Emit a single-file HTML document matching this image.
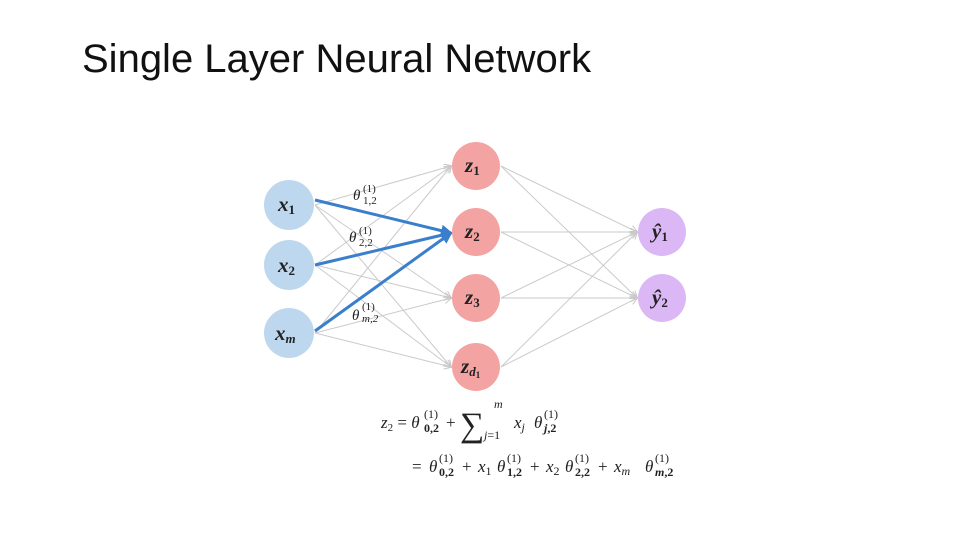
<!DOCTYPE html>
<html><head><meta charset="utf-8"><style>
html,body{margin:0;padding:0;background:#fff;}
body{width:960px;height:540px;overflow:hidden;position:relative;}
.t{position:absolute;left:82px;top:37px;font-family:"Liberation Sans",sans-serif;font-size:40px;color:#111;letter-spacing:0px;}
</style></head><body>
<div class="t">Single Layer Neural Network</div>
<svg width="960" height="540" style="position:absolute;left:0;top:0" font-family="Liberation Serif, serif" font-style="italic">
<defs>
<marker id="g" markerWidth="8" markerHeight="8" refX="7" refY="4" orient="auto" markerUnits="userSpaceOnUse"><path d="M0,0 L8,4 L0,8" fill="none" stroke="#c8c8c8" stroke-width="1"/></marker>
<marker id="b" markerWidth="12" markerHeight="12" refX="10" refY="6" orient="auto" markerUnits="userSpaceOnUse"><path d="M0,0 L12,6 L0,12 z" fill="#3a7fcc"/></marker>
</defs>
<g stroke="#cacaca" stroke-width="1" fill="none" marker-end="url(#g)">
<line x1="315" y1="205" x2="451" y2="166"/><line x1="315" y1="205" x2="451" y2="298"/><line x1="315" y1="205" x2="451" y2="367"/>
<line x1="315" y1="265" x2="451" y2="166"/><line x1="315" y1="265" x2="451" y2="298"/><line x1="315" y1="265" x2="451" y2="367"/>
<line x1="315" y1="333" x2="451" y2="166"/><line x1="315" y1="333" x2="451" y2="298"/><line x1="315" y1="333" x2="451" y2="367"/>
<line x1="501" y1="166" x2="637" y2="232"/><line x1="501" y1="166" x2="637" y2="298"/>
<line x1="501" y1="232" x2="637" y2="232"/><line x1="501" y1="232" x2="637" y2="298"/>
<line x1="501" y1="298" x2="637" y2="232"/><line x1="501" y1="298" x2="637" y2="298"/>
<line x1="501" y1="367" x2="637" y2="232"/><line x1="501" y1="367" x2="637" y2="298"/>
</g>
<g stroke="#3a7fcc" stroke-width="3" marker-end="url(#b)">
<line x1="315" y1="200" x2="451" y2="233"/><line x1="315" y1="265" x2="451" y2="233"/><line x1="315" y1="331" x2="451" y2="233"/>
</g>
<g fill="#bdd7ee"><circle cx="289" cy="205" r="25"/><circle cx="289" cy="265" r="25"/><circle cx="289" cy="333" r="25"/></g>
<g fill="#f4a3a3"><circle cx="476" cy="166" r="24"/><circle cx="476" cy="232" r="24"/><circle cx="476" cy="298" r="24"/><circle cx="476" cy="367" r="24"/></g>
<g fill="#dbb8f5"><circle cx="662" cy="232" r="24"/><circle cx="662" cy="298" r="24"/></g>
<g fill="#222" font-size="21" font-weight="bold">
<text x="278" y="211">x<tspan font-size="13" font-style="normal" dy="3">1</tspan></text>
<text x="278" y="272">x<tspan font-size="13" font-style="normal" dy="3">2</tspan></text>
<text x="275" y="340">x<tspan font-size="13" dy="3">m</tspan></text>
<text x="465" y="172">z<tspan font-size="13" font-style="normal" dy="3">1</tspan></text>
<text x="465" y="238">z<tspan font-size="13" font-style="normal" dy="3">2</tspan></text>
<text x="465" y="304">z<tspan font-size="13" font-style="normal" dy="3">3</tspan></text>
<text x="461" y="373">z<tspan font-size="13" dy="3">d</tspan><tspan font-size="9" font-style="normal" dy="2">1</tspan></text>
<text x="652" y="238">ŷ<tspan font-size="13" font-style="normal" dy="3">1</tspan></text>
<text x="652" y="304">ŷ<tspan font-size="13" font-style="normal" dy="3">2</tspan></text>
</g>
<g fill="#222" font-size="15">
<text x="353" y="200">θ</text><text x="363" y="192" font-size="11" font-style="normal">(1)</text><text x="363" y="204" font-size="11" font-style="normal">1,2</text>
<text x="349" y="242">θ</text><text x="359" y="234" font-size="11" font-style="normal">(1)</text><text x="359" y="246" font-size="11" font-style="normal">2,2</text>
<text x="352" y="320">θ</text><text x="362" y="310" font-size="11" font-style="normal">(1)</text><text x="362" y="322" font-size="11">m,2</text>
</g>
<g fill="#222" font-size="17">
<text x="381" y="428">z<tspan font-size="11" font-style="normal" dy="3">2</tspan><tspan font-style="normal" dy="-3"> = </tspan>θ</text>
<text x="424" y="418" font-size="12" font-style="normal">(1)</text><text x="424" y="432" font-size="12" font-style="normal" font-weight="bold">0,2</text>
<text x="446" y="428" font-style="normal">+</text>
<text x="460" y="436" font-size="34" font-style="normal">∑</text>
<text x="494" y="408" font-size="12">m</text>
<text x="484" y="439" font-size="12">j<tspan font-style="normal">=1</tspan></text>
<text x="514" y="428">x<tspan font-size="12" dy="3">j</tspan></text>
<text x="534" y="428">θ</text><text x="544" y="418" font-size="12" font-style="normal">(1)</text><text x="544" y="432" font-size="12" font-weight="bold"><tspan>j</tspan><tspan font-style="normal">,2</tspan></text>
<text x="412" y="472" font-style="normal">=</text>
<text x="429" y="472">θ</text><text x="439" y="462" font-size="12" font-style="normal">(1)</text><text x="439" y="476" font-size="12" font-style="normal" font-weight="bold">0,2</text>
<text x="462" y="472" font-style="normal">+</text>
<text x="478" y="472">x<tspan font-size="12" font-style="normal" dy="3">1</tspan></text>
<text x="497" y="472">θ</text><text x="507" y="462" font-size="12" font-style="normal">(1)</text><text x="507" y="476" font-size="12" font-style="normal" font-weight="bold">1,2</text>
<text x="530" y="472" font-style="normal">+</text>
<text x="546" y="472">x<tspan font-size="12" font-style="normal" dy="3">2</tspan></text>
<text x="565" y="472">θ</text><text x="575" y="462" font-size="12" font-style="normal">(1)</text><text x="575" y="476" font-size="12" font-style="normal" font-weight="bold">2,2</text>
<text x="598" y="472" font-style="normal">+</text>
<text x="614" y="472">x<tspan font-size="12" dy="3">m</tspan></text>
<text x="645" y="472">θ</text><text x="655" y="462" font-size="12" font-style="normal">(1)</text><text x="655" y="476" font-size="12" font-weight="bold">m<tspan font-style="normal">,2</tspan></text>
</g>
</svg>
</body></html>
